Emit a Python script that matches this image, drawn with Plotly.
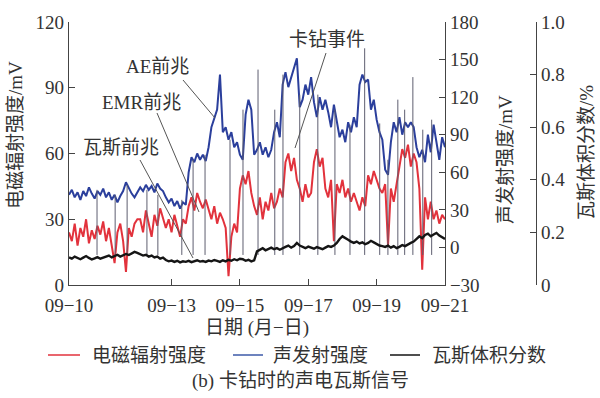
import plotly.graph_objects as go

# ---------------- data (sampled every 2 h from 09-10 00:00) ----------------
date_labels = ["09−10", "09−13", "09−15", "09−17", "09−19", "09−21"]
date_ticks_day = [0, 3, 5, 7, 9, 11]
sample_step_h = 2

acoustic_mV = [
    42, 46, 40, 44, 38, 45, 41, 48, 43, 39, 45, 42, 47,
    40, 44, 38, 42, 36, 41, 45, 52, 47, 43, 40, 44,
    48, 45, 50, 46, 49, 44, 51, 47, 45,
    40, 36, 39, 33, 37, 31, 36, 34,
    60,
    72, 68, 75, 70, 74, 69,
    80, 96, 104,
    110, 138, 92,
    96, 86, 92,
    80, 84, 74,
    70, 106, 118,
    110, 74, 78,
    84, 74, 80, 72, 78,
    92, 100, 88,
    130, 140, 128, 136, 142,
    151,
    112, 118,
    130, 122, 136,
    116, 104, 120, 110, 118,
    108, 96, 114, 100,
    88, 94, 84,
    100, 92, 104, 96,
    130, 138, 132, 134,
    110,
    118, 102,
    92, 86,
    62, 58,
    84, 100, 92,
    104, 90, 100, 96,
    100, 96,
    80, 72, 78, 68,
    90, 76, 98, 84, 70, 88, 80,
]

emr_mV = [
    24, 20, 28, 18, 26, 22, 30, 19, 25, 21, 27, 23, 29,
    20, 26, 18, 10, 24, 28, 20, 6, 26, 22, 28, 30,
    30, 24, 34, 28, 22, 32, 27, 35, 30,
    26, 30, 24, 32, 27, 22, 30, 28,
    36, 40, 34, 42, 38, 35, 39,
    34, 30, 36, 28, 33, 30,
    26, 4, 22, 28, 24,
    44, 50, 46, 52, 42,
    36, 32, 40, 30, 38, 34, 42, 35,
    38, 44, 40,
    56, 60, 52, 58, 48,
    44, 38, 46, 40, 42,
    56, 62, 54, 58,
    44, 40, 48, 20,
    46, 42, 48, 40, 44, 38, 42,
    38, 34, 40, 36,
    50, 46, 52, 48, 44,
    42, 46, 18, 44, 38, 46,
    56, 62, 58, 64, 54, 60, 56,
    44, 7, 40, 30, 38,
    30, 34, 28, 32, 30,
]

gas_fraction = [
    0.105, 0.100, 0.108, 0.102, 0.098, 0.104, 0.110, 0.103, 0.097, 0.101, 0.106, 0.100, 0.104,
    0.108, 0.112, 0.105, 0.110, 0.115, 0.108, 0.112, 0.118, 0.114, 0.120, 0.126, 0.122,
    0.118, 0.112, 0.115, 0.108, 0.112, 0.105, 0.108, 0.100, 0.104,
    0.095, 0.090, 0.093, 0.088, 0.092, 0.086, 0.090, 0.088, 0.092, 0.087, 0.090, 0.094, 0.089,
    0.091, 0.088, 0.093, 0.090, 0.095, 0.092, 0.088, 0.094, 0.090, 0.096, 0.092, 0.098, 0.094, 0.100,
    0.098, 0.092, 0.096, 0.090, 0.094, 0.128,
    0.135, 0.140, 0.132, 0.138, 0.142, 0.136, 0.140, 0.134, 0.138, 0.145, 0.150, 0.142, 0.148, 0.160,
    0.150, 0.145, 0.140, 0.146, 0.142, 0.138, 0.144, 0.140, 0.136, 0.142, 0.148, 0.145,
    0.150, 0.160, 0.175, 0.185, 0.180, 0.172, 0.165, 0.160,
    0.165, 0.158, 0.162, 0.155, 0.160, 0.168, 0.162, 0.155, 0.150, 0.148,
    0.145, 0.150, 0.142, 0.148, 0.140, 0.145, 0.152, 0.148, 0.155, 0.160,
    0.165, 0.175, 0.185, 0.178, 0.190, 0.195, 0.185, 0.192, 0.198, 0.188, 0.180, 0.175,
]

# short signal drop-outs seen as thin grey spikes (day, peak on acoustic axis in mV)
spike_day = [0.82, 1.35, 1.70, 2.28, 2.60, 3.30, 3.63, 3.98, 4.71, 5.09, 5.53, 6.02,
             6.26, 6.75, 7.28, 7.78, 8.22, 8.65, 9.09, 9.33, 9.62, 9.82, 10.06, 10.35, 10.61]
spike_peak_mV = [46, 42, 50, 46, 42, 38, 70, 74, 86, 110, 142, 110,
                 138, 122, 122, 110, 98, 159, 99, 70, 118, 110, 136, 94, 102]
spike_base_mV = -6

n = len(acoustic_mV)
days = [i * sample_step_h / 24 for i in range(n)]

spike_x, spike_y = [], []
for d, p in zip(spike_day, spike_peak_mV):
    spike_x += [d, d, None]
    spike_y += [spike_base_mV, p, None]

# ---------------- styling ----------------
FONT = "Liberation Serif, Noto Sans CJK SC, serif"
TXT = "#333333"
RED = "#e2323c"
BLUE = "#2b3f9c"
BLACK = "#151515"
FS = 19

def W(px):
    return px / 600.0

def H(py):
    return (285 - py) / 263.0

fig = go.Figure()
fig.add_trace(go.Scatter(x=days, y=emr_mV, name="电磁辐射强度", mode="lines",
                         line=dict(color=RED, width=2), yaxis="y"))
fig.add_trace(go.Scatter(x=days, y=acoustic_mV, name="声发射强度", mode="lines",
                         line=dict(color=BLUE, width=2), yaxis="y2"))
fig.add_trace(go.Scatter(x=spike_x, y=spike_y, mode="lines", showlegend=False,
                         line=dict(color="#5e5e70", width=1), yaxis="y2",
                         hoverinfo="skip"))
fig.add_trace(go.Scatter(x=days, y=gas_fraction, name="瓦斯体积分数", mode="lines",
                         line=dict(color=BLACK, width=2.4), yaxis="y3"))

axis_common = dict(showgrid=False, zeroline=False, showline=True, linecolor="#444",
                   linewidth=1.2, ticks="inside", ticklen=6, tickcolor="#444",
                   automargin=False,
                   tickfont=dict(family=FONT, size=FS, color=TXT))

fig.update_layout(
    template="none",
    width=600, height=398, autosize=False,
    margin=dict(l=0, r=0, t=22, b=113, pad=0),
    paper_bgcolor="white", plot_bgcolor="white",
    font=dict(family=FONT, size=FS, color=TXT),
    showlegend=False,
    xaxis=dict(axis_common, domain=[W(69), W(445)], range=[0, 11],
               tickvals=date_ticks_day, ticktext=date_labels, anchor="y",
               ticklabelstandoff=3),
    yaxis=dict(axis_common, range=[0, 120], tickvals=[0, 30, 60, 90, 120]),
    yaxis2=dict(axis_common, range=[-30, 180], overlaying="y", side="right", anchor="x",
                tickvals=[-30, 0, 30, 60, 90, 120, 150, 180],
                ticktext=["−30", "0", "30", "60", "90", "120", "150", "180"]),
    yaxis3=dict(axis_common, range=[0, 1], overlaying="y", side="right", anchor="free",
                position=W(536), tickvals=[0, 0.2, 0.4, 0.6, 0.8, 1.0],
                ticktext=["0", "0.2", "0.4", "0.6", "0.8", "1.0"]),
)

ann = [
    dict(text="电磁辐射强度/mV", x=W(15), y=H(135), textangle=-90),
    dict(text="声发射强度/mV", x=W(505), y=H(160), textangle=-90),
    dict(text="瓦斯体积分数/%", x=W(586), y=H(153), textangle=-90),
    dict(text="日期 (月−日)", x=W(257), y=H(328)),
    dict(text="(b) 卡钻时的声电瓦斯信号", x=W(300), y=H(381)),
    dict(text="AE前兆", x=W(157), y=H(66)),
    dict(text="EMR前兆", x=W(141), y=H(102)),
    dict(text="瓦斯前兆", x=W(121), y=H(147)),
    dict(text="卡钻事件", x=W(327), y=H(39)),
]
for a in ann:
    fig.add_annotation(xref="paper", yref="paper", showarrow=False,
                       xanchor="center", yanchor="middle",
                       font=dict(family=FONT, size=FS, color=TXT), **a)

# legend drawn as key lines + labels
legend_items = [("电磁辐射强度", RED, 48, 80, 90),
                ("声发射强度", "#3d5aa8", 233, 263, 271),
                ("瓦斯体积分数", BLACK, 390, 420, 430)]
for label, col, lx0, lx1, tx in legend_items:
    fig.add_shape(type="line", xref="paper", yref="paper",
                  x0=W(lx0), x1=W(lx1), y0=H(355), y1=H(355),
                  line=dict(color=col, width=1.5))
    fig.add_annotation(xref="paper", yref="paper", showarrow=False, text=label,
                       x=W(tx), y=H(355), xanchor="left", yanchor="middle",
                       font=dict(family=FONT, size=FS, color=TXT))

leader_lines = [
    ((183, 80), (215, 118)),
    ((157, 113), (199, 212)),
    ((140, 160), (193, 258)),
    ((326, 53), (295, 148)),
]
for (x0, y0), (x1, y1) in leader_lines:
    fig.add_shape(type="line", xref="paper", yref="paper",
                  x0=W(x0), y0=H(y0), x1=W(x1), y1=H(y1),
                  line=dict(color="#555", width=1))

fig.write_html("out.html", config={"displayModeBar": False},
               post_script="document.body.style.margin='0px';"
               "document.body.style.overflow='hidden';")
